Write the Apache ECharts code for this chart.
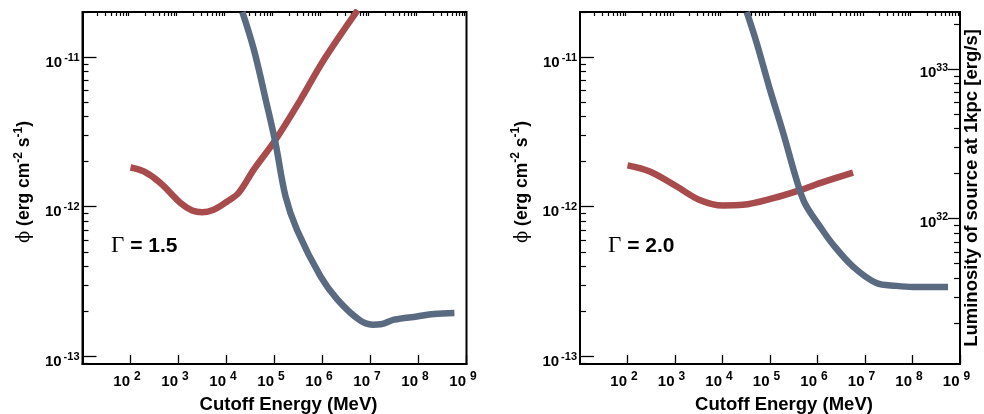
<!DOCTYPE html>
<html><head><meta charset="utf-8">
<script src="https://cdn.jsdelivr.net/npm/echarts@6/dist/echarts.min.js"></script>
<style>html,body{margin:0;padding:0;background:#fff}#c{width:984px;height:414px}</style>
</head><body><div id="c"></div>
<script>
// ---------- data ----------
const xMajorTicks = [1e2, 1e3, 1e4, 1e5, 1e6, 1e7, 1e8, 1e9];
const yMajorTicks = [1e-13, 1e-12, 1e-11];
const lumMajorTicks = [1e32, 1e33];
const panelGammas = ['1.5', '2.0'];
const xTitle = 'Cutoff Energy (MeV)';
const lumTitle = 'Luminosity of source at 1kpc [erg/s]';
const lumPerFlux = 1.2e44; // 4*pi*d^2 for d = 1 kpc
const xRange = [10, 1e9];
const fluxRange = [8.9e-14, 2.0e-11];

// Gamma = 1.5 panel
const g15RedE = [100, 190, 420, 1.1e3, 1.93e3, 3.1e3, 5.4e3, 1.02e4, 1.8e4, 3.7e4, 1.05e5, 3.5e5, 1.07e6, 5.4e6];
const g15RedF = [1.83e-12, 1.72e-12, 1.44e-12, 1.06e-12, 0.945e-12, 0.92e-12, 0.955e-12, 1.08e-12, 1.24e-12, 1.77e-12, 2.8e-12, 5.2e-12, 9.6e-12, 2.06e-11];
const g15BlueE = [2.14e4, 3.72e4, 7.08e4, 1.05e5, 1.7e5, 2.95e5, 9.1e5, 2.04e6, 5.75e6, 1.1e7, 1.62e7, 3.09e7, 9.3e7, 2.09e8, 5.6e8];
const g15BlueF = [2.0e-11, 1.12e-11, 4.67e-12, 2.66e-12, 1.17e-12, 7.0e-13, 3.42e-13, 2.4e-13, 1.76e-13, 1.63e-13, 1.64e-13, 1.76e-13, 1.85e-13, 1.92e-13, 1.95e-13];

// Gamma = 2.0 panel
const g20RedE = [100, 295, 1.07e3, 3.3e3, 1.02e4, 2.7e4, 1.17e5, 4.3e5, 1.3e6, 5.6e6];
const g20RedF = [1.89e-12, 1.72e-12, 1.37e-12, 1.11e-12, 1.02e-12, 1.03e-12, 1.14e-12, 1.29e-12, 1.46e-12, 1.69e-12];
const g20BlueE = [3.24e4, 5.25e4, 1.0e5, 1.9e5, 3.63e5, 5.37e5, 1.12e6, 2.14e6, 5.6e6, 1.74e7, 4.57e7, 1.02e8, 5.6e8];
const g20BlueF = [2.0e-11, 1.24e-11, 6.05e-12, 3.1e-12, 1.51e-12, 1.06e-12, 7.4e-13, 5.57e-13, 3.98e-13, 3.09e-13, 2.96e-13, 2.91e-13, 2.91e-13];

// ---------- styling / helpers ----------
const FONT = 'Liberation Sans, Arial, sans-serif';
const RED = '#a74b4d';
const BLUE = '#5a6a80';
function minorTicks(lo, hi) {
  const out = [];
  for (let e = Math.floor(Math.log10(lo)) - 1; e <= Math.ceil(Math.log10(hi)); e++) {
    for (let m = 2; m <= 9; m++) {
      const v = m * Math.pow(10, e);
      if (v >= lo && v <= hi) out.push(v);
    }
  }
  return out;
}
const expOf = v => Math.round(Math.log10(v));
const lumRange = [fluxRange[0] * lumPerFlux, fluxRange[1] * lumPerFlux];

const richX = {
  b: {fontSize: 15, fontWeight: 'bold', fontFamily: FONT, color: '#000', lineHeight: 18, verticalAlign: 'bottom'},
  s: {fontSize: 12, fontWeight: 'bold', fontFamily: FONT, color: '#000', lineHeight: 12, verticalAlign: 'top', padding: [0, 0, 0, 4]}
};
const richY = {
  b: {fontSize: 15, fontWeight: 'bold', fontFamily: FONT, color: '#000', lineHeight: 18, verticalAlign: 'bottom'},
  s: {fontSize: 11, fontWeight: 'bold', fontFamily: FONT, color: '#000', lineHeight: 11, verticalAlign: 'top', padding: [0, 0, 0, 2]}
};
const richL = {
  b: {fontSize: 15, fontWeight: 'bold', fontFamily: FONT, color: '#000', lineHeight: 18, verticalAlign: 'bottom'},
  s: {fontSize: 10.5, fontWeight: 'bold', fontFamily: FONT, color: '#000', lineHeight: 10, verticalAlign: 'top'}
};
const richTitle = {
  t: {fontSize: 17.5, fontWeight: 'bold', fontFamily: FONT, color: '#000', lineHeight: 21, verticalAlign: 'bottom'},
  p: {fontSize: 18, fontWeight: 'normal', fontFamily: 'DejaVu Serif, serif', color: '#000', lineHeight: 21, verticalAlign: 'bottom'},
  s: {fontSize: 12, fontWeight: 'bold', fontFamily: FONT, color: '#000', lineHeight: 12, verticalAlign: 'top'}
};
const yTitleRich = '{p|\u03d5}{t| (erg cm}{s|-2}{t| s}{s|-1}{t|)}';

const grids = [
  {left: 82.5, top: 12, width: 384, height: 352},
  {left: 580, top: 12, width: 380, height: 352}
].map(g => Object.assign(g, {show: true, borderColor: '#000', borderWidth: 2, backgroundColor: 'transparent', containLabel: false, outerBoundsMode: 'none'}));

const xAxes = [];
const yAxes = [];
grids.forEach((g, gi) => {
  xAxes.push({
    type: 'log', logBase: 10, gridIndex: gi, min: xRange[0], max: xRange[1],
    name: xTitle, nameLocation: 'middle', nameGap: 31,
    nameTextStyle: {fontSize: 18.5, fontWeight: 'bold', fontFamily: FONT, color: '#000', padding: [0, 0, 0, 28]},
    axisLine: {show: true, onZero: false, lineStyle: {color: '#000', width: 2}},
    axisTick: {show: true, inside: true, length: 9, customValues: xMajorTicks, lineStyle: {color: '#000', width: 1.3}},
    axisLabel: {show: true, customValues: xMajorTicks, margin: 7, formatter: v => '{b|10}{s|' + expOf(v) + '}', rich: richX, padding: [0, 7, 0, 0]},
    splitLine: {show: false}
  });
  xAxes.push({
    type: 'log', logBase: 10, gridIndex: gi, min: xRange[0], max: xRange[1],
    axisLine: {show: false, onZero: false},
    axisTick: {show: true, inside: true, length: 4, customValues: minorTicks(xRange[0], xRange[1]), lineStyle: {color: '#000', width: 1.2}},
    axisLabel: {show: false}, splitLine: {show: false}
  });
  yAxes.push({
    type: 'log', logBase: 10, gridIndex: gi, position: 'left', min: fluxRange[0], max: fluxRange[1],
    name: yTitleRich, nameLocation: 'middle', nameGap: 49, nameRotate: 90,
    nameTextStyle: {rich: richTitle, padding: [0, 0, 0, 12]},
    axisLine: {show: true, onZero: false, lineStyle: {color: '#000', width: 2}},
    axisTick: {show: true, inside: true, length: 14, customValues: yMajorTicks, lineStyle: {color: '#000', width: 1.3}},
    axisLabel: {show: true, customValues: yMajorTicks, margin: 3, formatter: v => '{b|10}{s|' + expOf(v) + '}', rich: richY, padding: [8, 0, 0, 0]},
    splitLine: {show: false}
  });
  yAxes.push({
    type: 'log', logBase: 10, gridIndex: gi, position: 'left', min: fluxRange[0], max: fluxRange[1],
    axisLine: {show: false, onZero: false},
    axisTick: {show: true, inside: true, length: 6, customValues: minorTicks(fluxRange[0], fluxRange[1]), lineStyle: {color: '#000', width: 1.2}},
    axisLabel: {show: false}, splitLine: {show: false}
  });
});
// luminosity axis (right panel)
yAxes.push({
  type: 'log', logBase: 10, gridIndex: 1, position: 'right', min: lumRange[0], max: lumRange[1],
  name: lumTitle, nameLocation: 'middle', nameGap: 2, nameRotate: 90,
  nameTextStyle: {fontSize: 18.5, fontWeight: 'bold', fontFamily: FONT, color: '#000'},
  axisLine: {show: true, onZero: false, lineStyle: {color: '#000', width: 2}},
  axisTick: {show: true, inside: true, length: 12, customValues: lumMajorTicks, lineStyle: {color: '#000', width: 1.3}},
  axisLabel: {show: true, inside: true, customValues: lumMajorTicks, margin: 12, formatter: v => '{b|10}{s|' + expOf(v) + '}', rich: richL, padding: [5, 0, 0, 0]},
  splitLine: {show: false}
});
yAxes.push({
  type: 'log', logBase: 10, gridIndex: 1, position: 'right', min: lumRange[0], max: lumRange[1],
  axisLine: {show: false, onZero: false},
  axisTick: {show: true, inside: true, length: 6, customValues: minorTicks(lumRange[0], lumRange[1]), lineStyle: {color: '#000', width: 1.2}},
  axisLabel: {show: false}, splitLine: {show: false}
});

function line(E, F, color, xi, yi) {
  return {
    type: 'line', xAxisIndex: xi, yAxisIndex: yi, data: E.map((e, i) => [e, F[i]]),
    showSymbol: false, symbol: 'none', smooth: 0.35, clip: true, silent: true,
    lineStyle: {color: color, width: 6.5, cap: 'butt', join: 'round'}, z: 3
  };
}

const gammaRich = {
  g: {fontSize: 23, fontFamily: 'Liberation Serif, Times New Roman, serif', fontWeight: 'normal', color: '#000'},
  t: {fontSize: 21, fontFamily: FONT, fontWeight: 'bold', color: '#000'}
};

const chart = echarts.init(document.getElementById('c'), null, {renderer: 'canvas'});
chart.setOption({
  animation: false,
  backgroundColor: '#fff',
  grid: grids,
  xAxis: xAxes,
  yAxis: yAxes,
  series: [
    line(g15RedE, g15RedF, RED, 0, 0),
    line(g15BlueE, g15BlueF, BLUE, 0, 0),
    line(g20RedE, g20RedF, RED, 2, 2),
    line(g20BlueE, g20BlueF, BLUE, 2, 2)
  ],
  graphic: [
    {type: 'text', x: 111, y: 246, style: {text: '{g|\u0393}{t| = ' + panelGammas[0] + '}', rich: gammaRich, verticalAlign: 'middle'}},
    {type: 'text', x: 608, y: 246, style: {text: '{g|\u0393}{t| = ' + panelGammas[1] + '}', rich: gammaRich, verticalAlign: 'middle'}}
  ]
});
</script></body></html>
